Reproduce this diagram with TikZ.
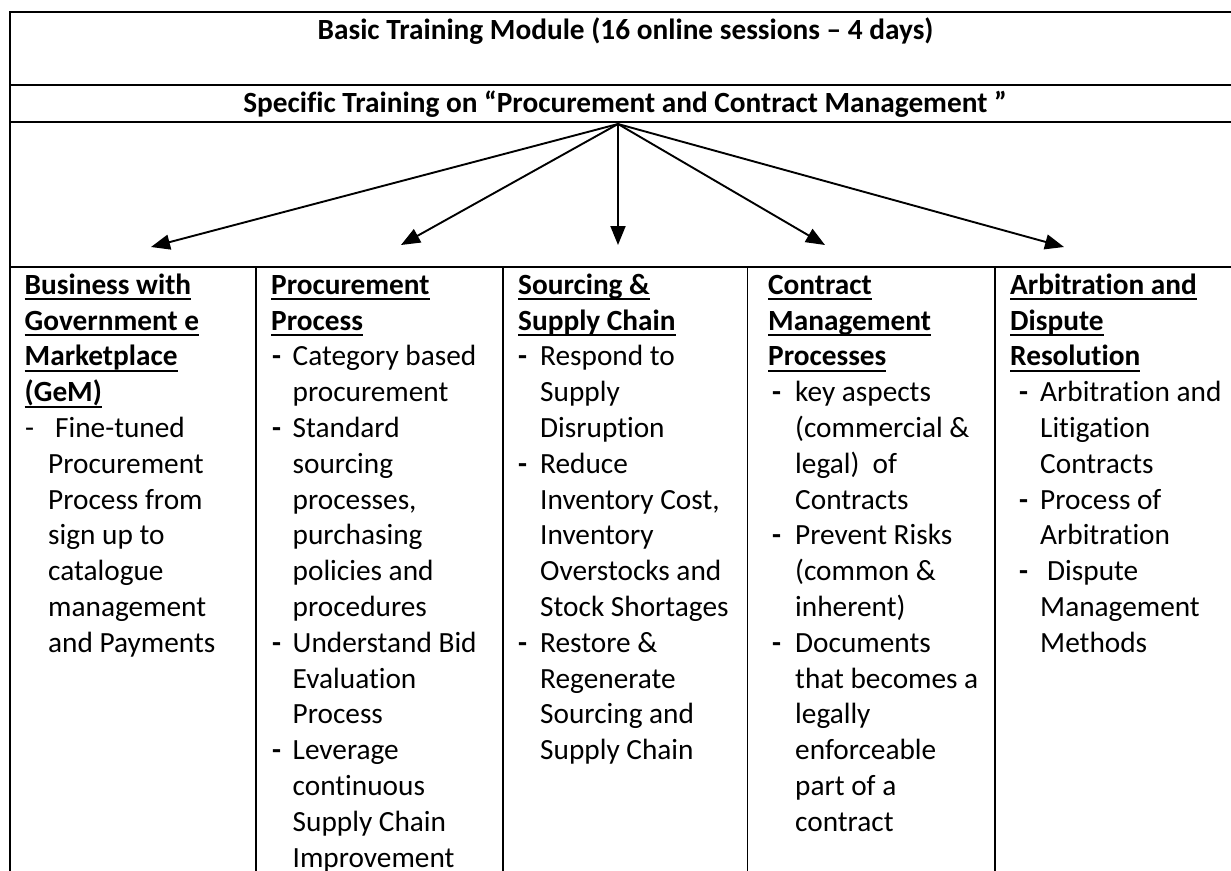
\documentclass[tikz,border=0pt]{standalone}
\usepackage{fontspec}
\setmainfont{Carlito}[Ligatures={NoCommon}]
\usetikzlibrary{arrows.meta}
\newsavebox\hulbox
\newcommand\hul[1]{\hbox{\sbox\hulbox{#1}\rlap{\rule[-6pt]{\wd\hulbox}{1.9pt}}\usebox\hulbox}}
\newcommand\hd[1]{\hul{\bfseries #1}}
\newcommand\itm[3]{\hspace*{#1pt}\makebox[\dimexpr#2pt-#1pt\relax][l]{\bfseries -}#3}
\newcommand\cnt[2]{\hspace*{#1pt}#2}
\newcommand\fst{\rule{0pt}{27pt}}
\tikzset{
  rulel/.style={line width=1.8pt},
  arr/.style={line width=1.9pt,-{Triangle[length=19pt,width=15pt]}},
  col/.style={anchor=north west, inner sep=0pt, align=left,
    font=\fontsize{29.3}{35.8}\selectfont},
  ttl/.style={anchor=base, inner sep=0pt, font=\fontsize{29.3}{35.8}\selectfont\bfseries}
}
\begin{document}
\begin{tikzpicture}[x=1pt,y=-1pt]
\useasboundingbox (0,0) rectangle (1231,870);
\begin{scope}
\clip (0,0) rectangle (1231,870);
% table rules
\draw[rulel] (10,12) -- (1245,12);
\draw[rulel] (10,85) -- (1245,85);
\draw[rulel] (10,122) -- (1245,122);
\draw[rulel] (10,267) -- (1245,267);
\draw[rulel] (10,11) -- (10,875);
\draw[rulel] (256,267) -- (256,875);
\draw[rulel] (503,267) -- (503,875);
\draw[rulel] (747.5,267) -- (747.5,875);
\draw[rulel] (995,267) -- (995,875);
\draw[rulel] (1241,11) -- (1241,875);
\end{scope}
% titles
\node[ttl] (ttlA) at (625.5,39) {Basic Training Module (16 online sessions – 4 days)};
\node[ttl] (ttlB) at (625,112) {Specific Training on “Procurement and Contract Management ”};
% arrows
\coordinate (src) at (618,124);
\coordinate (tA) at (151,247);
\coordinate (tB) at (401,245);
\coordinate (tC) at (618,245);
\coordinate (tD) at (825,245);
\coordinate (tE) at (1064,247);
\draw[arr] (src) -- (tA);
\draw[arr] (src) -- (tB);
\draw[arr] (src) -- (tC);
\draw[arr] (src) -- (tD);
\draw[arr] (src) -- (tE);
% columns
\node[col] (c1) at (24.5,267) {\fst\hd{Business with}\\
\hd{Government e}\\
\hd{Marketplace}\\
\hd{(GeM)}\\
\hspace*{0.5pt}\makebox[30pt][l]{-}Fine-tuned\\
\cnt{23.5}{Procurement}\\
\cnt{23.5}{Process from}\\
\cnt{23.5}{sign up to}\\
\cnt{23.5}{catalogue}\\
\cnt{23.5}{management}\\
\cnt{23.5}{and Payments}};
\node[col] (c2) at (271,267) {\fst\hd{Procurement}\\
\hd{Process}\\
\itm{1}{21.5}{Category based}\\
\cnt{21.5}{procurement}\\
\itm{1}{21.5}{Standard}\\
\cnt{21.5}{sourcing}\\
\cnt{21.5}{processes,}\\
\cnt{21.5}{purchasing}\\
\cnt{21.5}{policies and}\\
\cnt{21.5}{procedures}\\
\itm{1}{21.5}{Understand Bid}\\
\cnt{21.5}{Evaluation}\\
\cnt{21.5}{Process}\\
\itm{1}{21.5}{Leverage}\\
\cnt{21.5}{continuous}\\
\cnt{21.5}{Supply Chain}\\
\cnt{21.5}{Improvement}};
\node[col] (c3) at (518,267) {\fst\hd{Sourcing \&}\\
\hd{Supply Chain}\\
\itm{0}{22}{Respond to}\\
\cnt{22}{Supply}\\
\cnt{22}{Disruption}\\
\itm{0}{22}{Reduce}\\
\cnt{22}{Inventory Cost,}\\
\cnt{22}{Inventory}\\
\cnt{22}{Overstocks and}\\
\cnt{22}{Stock Shortages}\\
\itm{0}{22}{Restore \&}\\
\cnt{22}{Regenerate}\\
\cnt{22}{Sourcing and}\\
\cnt{22}{Supply Chain}};
\node[col] (c4) at (768,267) {\fst\hd{Contract}\\
\hd{Management}\\
\hd{Processes}\\
\itm{4}{27}{key aspects}\\
\cnt{27}{(commercial \&}\\
\cnt{27}{legal)\ \ of}\\
\cnt{27}{Contracts}\\
\itm{4}{27}{Prevent Risks}\\
\cnt{27}{(common \&}\\
\cnt{27}{inherent)}\\
\itm{4}{27}{Documents}\\
\cnt{27}{that becomes a}\\
\cnt{27}{legally}\\
\cnt{27}{enforceable}\\
\cnt{27}{part of a}\\
\cnt{27}{contract}};
\node[col] (c5) at (1010,267) {\fst\hd{Arbitration and}\\
\hd{Dispute}\\
\hd{Resolution}\\
\itm{9}{30}{Arbitration and}\\
\cnt{30}{Litigation}\\
\cnt{30}{Contracts}\\
\itm{9}{30}{Process of}\\
\cnt{30}{Arbitration}\\
\itm{9}{37}{Dispute}\\
\cnt{30}{Management}\\
\cnt{30}{Methods}};
\end{tikzpicture}
\end{document}
